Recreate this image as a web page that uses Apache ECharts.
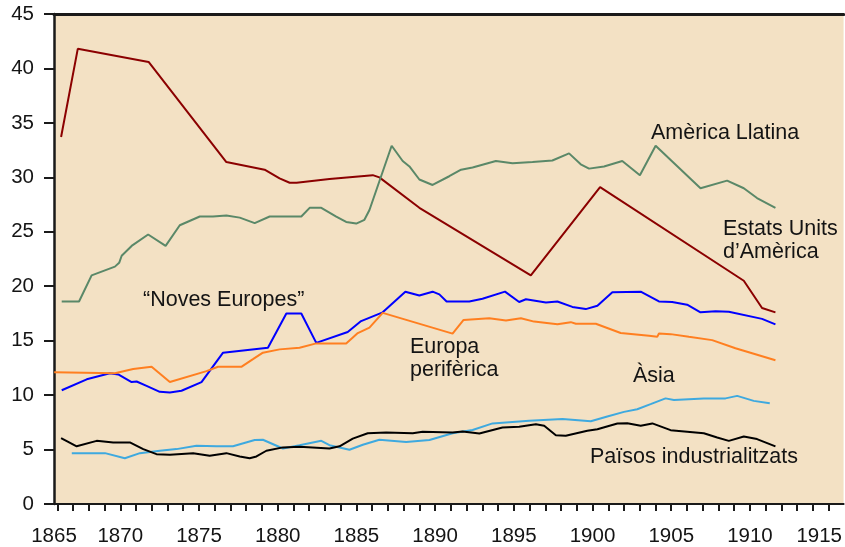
<!DOCTYPE html>
<html>
<head>
<meta charset="utf-8">
<script src="https://cdn.jsdelivr.net/npm/echarts@6/dist/echarts.min.js"></script>
<style>
html,body{margin:0;padding:0;background:#fff;}
#chart{width:845px;height:547px;}
</style>
</head>
<body>
<div id="chart"></div>
<script>
// ---- data (year, share %) ----
const usa = [[1866.24,33.7],[1867.3,41.8],[1871.8,40.6],[1876.74,31.4],[1879.17,30.7],[1880.12,29.9],[1880.76,29.5],[1881.2,29.5],[1883.29,29.85],[1886.04,30.2],[1886.46,30.0],[1889.0,27.2],[1896.08,21.0],[1900.48,29.1],[1909.61,20.5],[1910.77,18.0],[1911.62,17.6]];
const latinAmerica = [[1866.28,18.6],[1867.38,18.6],[1868.18,21.0],[1869.66,21.8],[1869.93,22.15],[1870.09,22.8],[1870.72,23.7],[1871.77,24.75],[1872.88,23.7],[1873.78,25.6],[1875.05,26.4],[1875.89,26.4],[1876.74,26.5],[1877.59,26.3],[1878.54,25.8],[1879.49,26.4],[1881.5,26.4],[1882.03,27.2],[1882.77,27.2],[1883.72,26.4],[1884.35,25.9],[1884.99,25.75],[1885.51,26.1],[1885.83,27.0],[1887.24,32.9],[1887.94,31.5],[1888.37,31.0],[1889.0,29.8],[1889.84,29.3],[1890.9,30.1],[1891.65,30.7],[1892.38,30.9],[1893.86,31.5],[1894.92,31.3],[1896.19,31.4],[1897.45,31.55],[1898.51,32.2],[1899.25,31.2],[1899.78,30.8],[1900.73,31.0],[1901.89,31.5],[1903.01,30.2],[1904.01,32.9],[1906.86,29.0],[1908.55,29.7],[1909.61,29.0],[1910.45,28.1],[1911.62,27.2]];
const newEuropes = [[1866.28,10.45],[1867.87,11.45],[1869.34,12.0],[1869.87,11.9],[1870.72,11.2],[1871.04,11.25],[1871.67,10.85],[1872.51,10.3],[1873.15,10.25],[1873.89,10.4],[1875.16,11.2],[1876.53,13.9],[1879.38,14.35],[1880.55,17.5],[1881.5,17.5],[1882.45,14.8],[1884.45,15.8],[1885.3,16.8],[1886.67,17.6],[1888.11,19.5],[1889.0,19.15],[1889.84,19.5],[1890.27,19.25],[1890.73,18.6],[1892.17,18.6],[1893.01,18.85],[1894.44,19.5],[1895.34,18.55],[1895.77,18.8],[1897.04,18.5],[1897.77,18.6],[1898.72,18.1],[1899.57,17.9],[1900.31,18.2],[1901.26,19.45],[1903.06,19.5],[1904.22,18.6],[1905.06,18.55],[1906.01,18.3],[1906.86,17.6],[1907.82,17.7],[1908.66,17.65],[1910.77,17.0],[1911.62,16.5]];
const peripheralEurope = [[1865.8,12.1],[1869.66,12.0],[1870.82,12.4],[1871.99,12.6],[1873.15,11.2],[1875.48,12.2],[1876.21,12.6],[1877.69,12.6],[1878.43,13.3],[1879.06,13.9],[1880.12,14.2],[1881.39,14.35],[1882.45,14.75],[1884.35,14.75],[1885.09,15.7],[1885.83,16.2],[1886.67,17.55],[1891.11,15.65],[1891.81,16.9],[1893.44,17.05],[1894.5,16.85],[1895.45,17.05],[1896.29,16.75],[1897.77,16.5],[1898.62,16.7],[1898.94,16.55],[1900.21,16.55],[1901.79,15.7],[1903.59,15.45],[1904.11,15.35],[1904.22,15.65],[1904.96,15.6],[1906.12,15.35],[1907.6,15.05],[1909.08,14.3],[1911.62,13.2]];
const asia = [[1866.92,4.67],[1869.03,4.67],[1870.29,4.2],[1871.25,4.67],[1872.51,4.9],[1873.57,5.04],[1874.84,5.35],[1876.11,5.3],[1877.16,5.3],[1878.54,5.87],[1879.06,5.9],[1880.33,5.1],[1881.39,5.4],[1882.77,5.8],[1883.29,5.4],[1884.56,4.98],[1885.41,5.44],[1886.46,5.9],[1888.16,5.7],[1889.64,5.87],[1891.11,6.5],[1892.38,6.8],[1893.65,7.4],[1895.98,7.64],[1898.09,7.8],[1899.89,7.6],[1900.94,8.04],[1902.0,8.46],[1902.84,8.7],[1903.69,9.17],[1904.64,9.7],[1905.17,9.56],[1907.07,9.7],[1908.45,9.7],[1909.19,9.93],[1910.24,9.47],[1911.26,9.26]];
const industrial = [[1866.24,6.05],[1867.23,5.3],[1868.5,5.8],[1869.55,5.65],[1870.61,5.65],[1871.46,5.04],[1872.3,4.58],[1873.15,4.52],[1874.63,4.67],[1875.68,4.43],[1876.74,4.67],[1877.59,4.37],[1878.22,4.2],[1878.65,4.37],[1879.28,4.89],[1880.33,5.2],[1881.39,5.25],[1883.29,5.1],[1883.93,5.3],[1884.77,6.0],[1885.72,6.5],[1886.89,6.57],[1888.58,6.5],[1889.21,6.63],[1891.11,6.57],[1891.75,6.66],[1892.81,6.48],[1894.28,7.03],[1895.34,7.09],[1896.4,7.33],[1896.93,7.18],[1897.67,6.32],[1898.3,6.26],[1899.67,6.72],[1900.31,6.87],[1901.58,7.4],[1902.21,7.42],[1903.06,7.18],[1903.8,7.4],[1904.96,6.78],[1907.07,6.5],[1907.92,6.11],[1908.66,5.8],[1909.61,6.2],[1910.45,5.96],[1911.62,5.29]];

const xTickLabels = ['1865','1870','1875','1880','1885','1890','1895','1900','1905','1910','1915'];
const yTicks = [0,5,10,15,20,25,30,35,40,45];

// ---- layout ----
const X_MIN = 1865.79, X_MAX = 1915.95;
const labelAnchors = [X_MIN,1870,1875,1880,1885,1890,1895,1900,1905,1910,1914.4];
const tickAnchors = [];
for (let y = 1866; y <= 1915; y++) tickAnchors.push(y);

const FONT = 'Liberation Sans, Arial, sans-serif';
const TXT = '#141414';

const chart = echarts.init(document.getElementById('chart'), null, {renderer:'canvas'});

function mk(name, data, color) {
  return {name, type:'line', data, showSymbol:false, symbol:'none', smooth:false,
    lineStyle:{color, width:2}, itemStyle:{color}, z:3, silent:true};
}

function label(text, x, y) {
  return {type:'text', x, y, z:10, style:{text, fill:TXT, fontSize:21.5, fontFamily:FONT, verticalAlign:'middle', textVerticalAlign:'middle'}};
}

chart.setOption({
  animation:false,
  backgroundColor:'#ffffff',
  grid:{left:54, right:0, top:14, bottom:42, show:true, backgroundColor:'#f3e1c4', borderWidth:0},
  xAxis:[{
    type:'value', min:X_MIN, max:X_MAX,
    axisLine:{show:true, onZero:false, lineStyle:{color:'#1a1a1a', width:2}},
    axisTick:{show:true, length:7, customValues:tickAnchors, lineStyle:{color:'#1a1a1a', width:2}},
    axisLabel:{customValues:labelAnchors, margin:22, fontSize:20.5, fontFamily:FONT, color:TXT,
      formatter:(v)=> xTickLabels[Math.max(0, Math.min(xTickLabels.length-1, Math.round((v-1865)/5)))]},
    splitLine:{show:false}
  },{
    type:'value', position:'top', min:X_MIN, max:X_MAX,
    axisLine:{show:true, onZero:false, lineStyle:{color:'#1a1a1a', width:3}},
    axisTick:{show:false}, axisLabel:{show:false}, splitLine:{show:false}
  }],
  yAxis:{
    type:'value', min:yTicks[0], max:yTicks[yTicks.length-1], interval:5,
    axisLine:{show:true, lineStyle:{color:'#1a1a1a', width:2.5}},
    axisTick:{show:true, length:10, lineStyle:{color:'#1a1a1a', width:2}},
    axisLabel:{margin:20, fontSize:20.5, fontFamily:FONT, color:TXT},
    splitLine:{show:false}
  },
  series:[
    mk('Estats Units d’Amèrica', usa, '#8b0000'),
    mk('Amèrica Llatina', latinAmerica, '#5a8868'),
    mk('“Noves Europes”', newEuropes, '#0000ff'),
    mk('Europa perifèrica', peripheralEurope, '#ff7f20'),
    mk('Àsia', asia, '#3ea9df'),
    mk('Països industrialitzats', industrial, '#000000')
  ],
  graphic:[
    label('Amèrica Llatina', 651, 133),
    label('Estats Units', 723, 229),
    label('d’Amèrica', 723, 252.5),
    label('“Noves Europes”', 143, 300),
    label('Europa', 410, 347),
    label('perifèrica', 410, 370.5),
    label('Àsia', 633, 376.5),
    label('Països industrialitzats', 590, 457.5)
  ]
});
</script>
</body>
</html>
